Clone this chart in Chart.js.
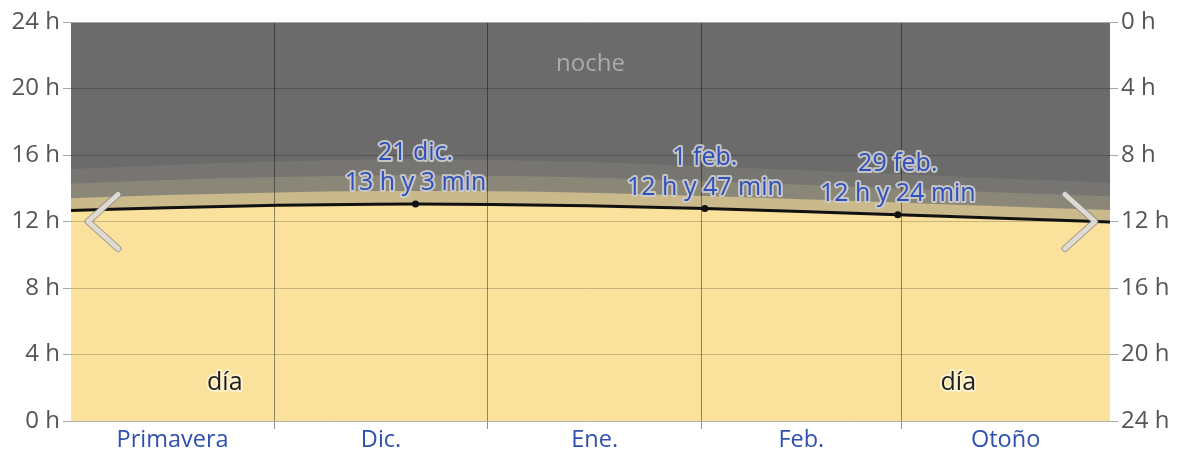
<!DOCTYPE html>
<html><head><meta charset="utf-8">
<script src="https://cdn.jsdelivr.net/npm/chart.js@4/dist/chart.umd.min.js"></script>
<style>html,body{margin:0;padding:0;background:#fff;} #wrap{width:1181px;height:456px;position:relative}</style>
</head><body><div id="wrap"><canvas id="c"></canvas></div>
<script>
// ---- data ----
const sampleDates   = ['2023-11-01','2023-11-15','2023-12-01','2023-12-15','2023-12-21','2024-01-01','2024-01-15','2024-02-01','2024-02-15','2024-02-29','2024-03-15','2024-04-01'];
const dayHours      = [12.66,12.83,12.97,13.04,13.05,13.03,12.95,12.78,12.60,12.40,12.20,11.96];
const civilHours    = [13.40,13.59,13.75,13.83,13.84,13.82,13.73,13.53,13.34,13.15,12.92,12.67];
const nauticalHours = [14.27,14.49,14.67,14.77,14.78,14.75,14.64,14.42,14.21,13.99,13.75,13.50];
const astroHours    = [15.16,15.40,15.61,15.73,15.74,15.70,15.58,15.32,15.08,14.85,14.59,14.33];
const nightHours    = [24,24,24,24,24,24,24,24,24,24,24,24];
const monthStarts   = ['2023-11-01','2023-12-01','2024-01-01','2024-02-01','2024-03-01','2024-04-01'];
const monthLabels   = ['Primavera','Dic.','Ene.','Feb.','Otoño'];
const yTickValues   = [0,4,8,12,16,20,24];
const eventDates    = ['2023-12-21','2024-02-01','2024-02-29'];
const eventHours    = [13.05,12.78,12.40];
const eventTitles   = ['21 dic.','1 feb.','29 feb.'];
const eventTexts    = ['13 h y 3 min','12 h y 47 min','12 h y 24 min'];
const rangeStart    = '2023-11-01';
const rangeEnd      = '2024-03-31';

// ---- helpers ----
const ORIGIN = Date.UTC(2023,10,1);
function dayIndex(s){const p=s.split('-').map(Number);return (Date.UTC(p[0],p[1]-1,p[2])-ORIGIN)/86400000;}
const xMin = dayIndex(rangeStart)+0.5;
const xMax = dayIndex(rangeEnd)+0.3;
const pts = arr => sampleDates.map((d,i)=>({x:dayIndex(d)+0.5,y:arr[i]}));

const boundaries = monthStarts.map(dayIndex);
const tickDefs = [];
for(let i=0;i<monthLabels.length;i++){
  const a=Math.max(boundaries[i],xMin), b=Math.min(boundaries[i+1],xMax);
  tickDefs.push({value:(a+b)/2,label:monthLabels[i],boundary:false});
}
boundaries.forEach(v=>{ if(v>xMin && v<xMax) tickDefs.push({value:v,label:'',boundary:true}); });
tickDefs.sort((a,b)=>a.value-b.value);
const isBoundary = v => boundaries.some(b=>Math.abs(b-v)<1e-6);

const FONT = "'Open Sans', 'Noto Sans', sans-serif";
const COL = {night:'#6b6b6b',astro:'#777571',naut:'#8b8778',civil:'#c9b98b',day:'#fae29d'};

const gridRedraw = {
  id:'gridRedraw',
  beforeDatasetDraw(chart,args){
    if(args.index!==5) return;
    const ctx=chart.ctx; ctx.save();
    chart.scales.x.drawGrid(chart.chartArea);
    chart.scales.y.drawGrid(chart.chartArea);
    ctx.restore();
  }
};

function haloText(ctx,txt,x,y,fill,halo,w){
  ctx.lineJoin='round';
  ctx.strokeStyle=halo; ctx.lineWidth=w; ctx.strokeText(txt,x,y);
  ctx.fillStyle=fill; ctx.fillText(txt,x,y);
}

const overlay = {
  id:'overlay',
  afterDatasetsDraw(chart){
    const ctx=chart.ctx, xs=chart.scales.x, ys=chart.scales.y, ca=chart.chartArea;
    ctx.save();
    ctx.textAlign='center'; ctx.textBaseline='middle';
    ctx.font="24px "+FONT;
    ctx.fillStyle='#ababab';
    ctx.fillText('noche',(ca.left+ca.right)/2,ca.top+42);
    const dy=ys.getPixelForValue(2.3);
    ctx.font="25px "+FONT;
    haloText(ctx,'día',ca.left+0.148*(ca.right-ca.left),dy,'#1e1e1e','rgba(255,244,215,0.85)',4);
    haloText(ctx,'día',ca.left+0.854*(ca.right-ca.left),dy,'#1e1e1e','rgba(255,244,215,0.85)',4);
    eventDates.forEach((d,i)=>{
      const px=xs.getPixelForValue(dayIndex(d)+0.5), py=ys.getPixelForValue(eventHours[i]);
      haloText(ctx,eventTitles[i],px,py-51,'#3050bc','rgba(205,205,205,0.9)',4);
      haloText(ctx,eventTexts[i],px,py-21,'#3050bc','rgba(205,205,205,0.9)',4);
    });
    // navigation chevrons
    const cy=ys.getPixelForValue(12);
    const chev=(vx,dir)=>{
      ctx.beginPath();
      ctx.moveTo(vx+dir*30,cy-27); ctx.lineTo(vx,cy); ctx.lineTo(vx+dir*30,cy+27);
      ctx.lineCap='round'; ctx.lineJoin='round';
      ctx.strokeStyle='rgba(130,130,130,0.7)'; ctx.lineWidth=7; ctx.stroke();
      ctx.strokeStyle='rgba(225,222,215,0.95)'; ctx.lineWidth=5; ctx.stroke();
    };
    chev(ca.left+17,1);
    chev(ca.right-15,-1);
    ctx.restore();
  }
};

const area = (label,arr,color,order)=>({label,data:pts(arr),backgroundColor:color,borderWidth:0,pointRadius:0,fill:'origin',cubicInterpolationMode:'monotone',order});

new Chart(document.getElementById('c'),{
  type:'line',
  data:{datasets:[
    area('noche',nightHours,COL.night,6),
    area('astro',astroHours,COL.astro,5),
    area('nautico',nauticalHours,COL.naut,4),
    area('civil',civilHours,COL.civil,3),
    area('dia',dayHours,COL.day,2),
    {label:'duracion',data:pts(dayHours),borderColor:'#111',borderWidth:3,pointRadius:0,fill:false,cubicInterpolationMode:'monotone',order:1},
    {label:'eventos',data:eventDates.map((d,i)=>({x:dayIndex(d)+0.5,y:eventHours[i]})),showLine:false,pointRadius:3.5,pointBackgroundColor:'#111',pointBorderWidth:0,order:0}
  ]},
  options:{
    responsive:true,maintainAspectRatio:false,animation:false,events:[],
    layout:{padding:{top:22,left:0,right:0,bottom:0}},
    plugins:{legend:{display:false},tooltip:{enabled:false}},
    scales:{
      x:{type:'linear',min:xMin,max:xMax,
        afterBuildTicks:s=>{s.ticks=tickDefs.map(t=>({value:t.value}));},
        afterFit:s=>{s.height=35;},
        border:{display:false},
        grid:{color:c=>c.tick&&isBoundary(c.tick.value)?'rgba(0,0,0,0.42)':'rgba(0,0,0,0)',
              tickColor:c=>c.tick&&isBoundary(c.tick.value)?'rgba(0,0,0,0.25)':'rgba(0,0,0,0)',tickLength:8,lineWidth:1},
        ticks:{autoSkip:false,maxRotation:0,padding:-3,color:'#3050b0',font:{family:FONT,size:23.5},
          callback:(v)=>{const t=tickDefs.find(t=>Math.abs(t.value-v)<1e-6);return t?t.label:'';}}
      },
      y:{min:0,max:24,position:'left',
        afterBuildTicks:s=>{s.ticks=yTickValues.map(v=>({value:v}));},
        afterFit:s=>{s.width=71;},
        border:{display:false},
        grid:{color:c=>(c.tick&&(c.tick.value===0||c.tick.value===24))?'rgba(175,175,175,0.9)':'rgba(0,0,0,0.2)',tickColor:'#a8a8a8',tickLength:8},
        ticks:{padding:3,color:'#555555',font:{family:FONT,size:24},callback:v=>v+' h'}
      },
      y2:{min:0,max:24,position:'right',reverse:true,
        afterBuildTicks:s=>{s.ticks=yTickValues.map(v=>({value:v}));},
        afterFit:s=>{s.width=71;},
        border:{display:false},
        grid:{drawOnChartArea:false,tickColor:'#a8a8a8',tickLength:8},
        ticks:{padding:3,color:'#555555',font:{family:FONT,size:24},callback:v=>v+' h'}
      }
    }
  },
  plugins:[gridRedraw,overlay]
});
</script></body></html>
